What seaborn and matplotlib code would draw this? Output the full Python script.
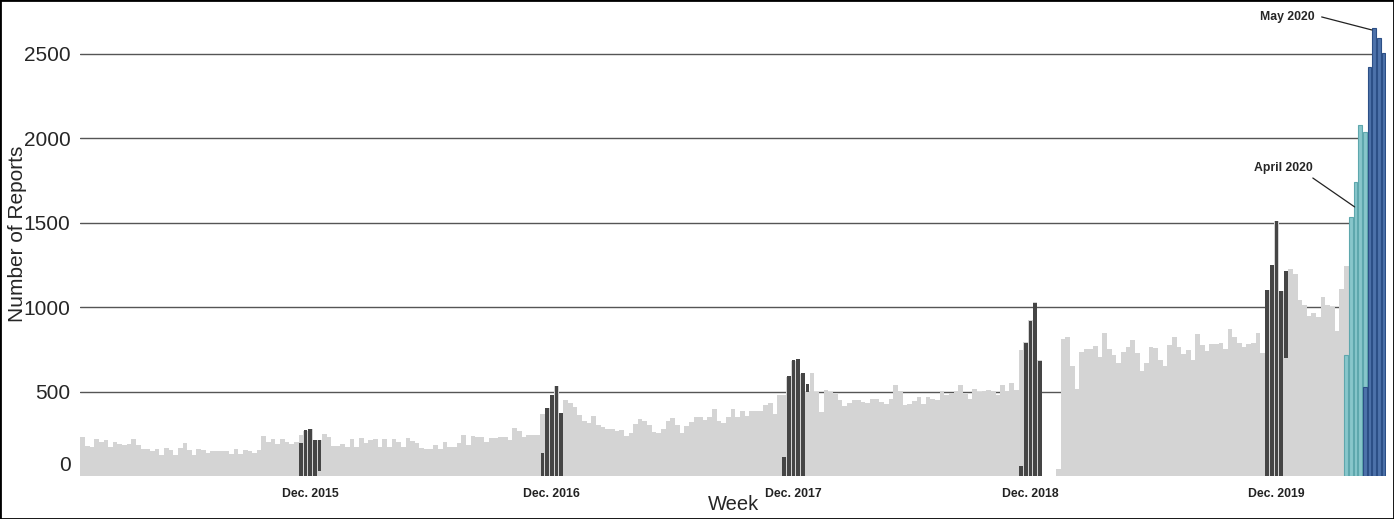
import numpy as np
import pandas as pd
import seaborn as sns
import matplotlib.pyplot as plt
from matplotlib.patches import Rectangle
from matplotlib.transforms import ScaledTranslation

# ---------------- data ----------------
# weekly number of reports (light grey bars), one list per Dec-to-Dec stretch
weeks_2015 = [235, 180, 175, 220, 206, 214, 175, 203, 192, 188, 192, 220, 188, 160, 164, 151,
              164, 127, 168, 154, 129, 170, 198, 156, 129, 164, 158, 140, 148, 148, 148, 148,
              132, 164, 136, 158, 150, 140, 156, 241, 203, 220, 194, 222, 203, 190, 205, 248,
              272, 280, 214, 214]
weeks_2016 = [249, 235, 180, 180, 192, 173, 224, 173, 230, 196, 216, 220, 173, 220, 173, 220,
              204, 173, 230, 208, 196, 169, 165, 165, 184, 161, 204, 173, 173, 200, 248, 188,
              242, 236, 232, 204, 228, 228, 232, 236, 216, 287, 267, 232, 248, 244, 248, 370,
              405, 482, 533, 374]
weeks_2017 = [453, 433, 409, 364, 328, 315, 358, 303, 295, 283, 279, 271, 275, 240, 255, 311,
              342, 326, 307, 263, 255, 283, 330, 346, 303, 259, 299, 322, 350, 350, 334, 350,
              397, 330, 315, 350, 397, 354, 390, 358, 386, 386, 390, 421, 433, 370, 480, 480,
              590, 685, 693, 605]
weeks_2018 = [502, 610, 502, 382, 509, 497, 490, 451, 417, 433, 451, 451, 441, 433, 457, 461,
              441, 429, 457, 539, 504, 421, 429, 449, 472, 429, 468, 461, 453, 508, 480, 496,
              504, 543, 488, 461, 520, 500, 508, 512, 504, 480, 539, 508, 555, 510, 749, 795,
              925, 1032, 688]
weeks_2019 = [0, 0, 0, 42, 812, 824, 654, 520, 737, 756, 756, 772, 709, 851, 756, 721, 673,
              737, 768, 808, 729, 623, 670, 764, 760, 689, 654, 776, 824, 768, 725, 749, 689,
              843, 776, 744, 784, 784, 788, 756, 875, 824, 788, 764, 784, 792, 851, 733, 1104,
              1250, 1514, 1096, 1214]
weeks_2020 = [1230, 1198, 1044, 1013, 950, 966, 946, 1064, 1013, 1001, 863, 1108, 1246]

# December weeks (dark bars): first week index, bar tops and bar bottoms
dec_first_week = [47, 99, 151, 202, 255]
dec_2015_top = [196, 275, 283, 216, 216]
dec_2015_bottom = [0, 0, 0, 0, 34]
dec_2016_top = [141, 407, 484, 535, 374]
dec_2016_bottom = [0, 0, 0, 0, 0]
dec_2017_top = [113, 595, 689, 697, 611, 545]
dec_2017_bottom = [0, 0, 0, 0, 0, 502]
dec_2018_top = [62, 792, 922, 1029, 685]
dec_2018_bottom = [0, 0, 0, 0, 0]
dec_2019_top = [1104, 1250, 1514, 1096, 1214]
dec_2019_bottom = [0, 0, 0, 0, 701]

# April 2020 (teal) and May 2020 (blue)
apr_first_week = 272
apr_2020 = [717, 1537, 1744, 2080, 2040]
may_first_week = 276
may_2020 = [530, 2425, 2652, 2593, 2505]

dec_labels = ["Dec. 2015", "Dec. 2016", "Dec. 2017", "Dec. 2018", "Dec. 2019"]
dec_label_week = [49, 101, 153, 204, 257]
y_ticks = [0, 500, 1000, 1500, 2000, 2500]

# ---------------- frames ----------------
grey_vals = weeks_2015 + weeks_2016 + weeks_2017 + weeks_2018 + weeks_2019 + weeks_2020
n_weeks = max(len(grey_vals), may_first_week + len(may_2020))
order = list(range(n_weeks))
grey_df = pd.DataFrame({"week": range(len(grey_vals)), "reports": grey_vals})

dec_tops = [dec_2015_top, dec_2016_top, dec_2017_top, dec_2018_top, dec_2019_top]
dec_bots = [dec_2015_bottom, dec_2016_bottom, dec_2017_bottom, dec_2018_bottom, dec_2019_bottom]
rows = []
for start, tops, bots in zip(dec_first_week, dec_tops, dec_bots):
    for k, (t, b) in enumerate(zip(tops, bots)):
        rows.append({"week": start + k, "top": t, "bottom": b})
dec_df = pd.DataFrame(rows)
float_df = dec_df[dec_df["bottom"] > 0]
apr_df = pd.DataFrame({"week": range(apr_first_week, apr_first_week + len(apr_2020)), "reports": apr_2020})
may_df = pd.DataFrame({"week": range(may_first_week, may_first_week + len(may_2020)), "reports": may_2020})

# ---------------- plot ----------------
sns.set_theme(style="white")
plt.rcParams["font.family"] = ["Liberation Sans", "DejaVu Sans"]

GREY = "#d4d4d4"
fig = plt.figure(figsize=(13.94, 5.19), dpi=100)
ax = fig.add_axes([0.0576, 0.0819, 0.9365, 0.9027])

common = dict(order=order, errorbar=None, saturation=1, ax=ax)
sns.barplot(data=grey_df, x="week", y="reports", color=GREY, width=1.0, linewidth=0, **common)
sns.barplot(data=dec_df, x="week", y="top", color="#454545", width=0.8, linewidth=0, **common)
# lower part of the floating December bars shows the grey series
sns.barplot(data=float_df, x="week", y="bottom", color=GREY, width=1.0, linewidth=0, **common)
sns.barplot(data=apr_df, x="week", y="reports", color="#88c6cb", width=0.8,
            edgecolor="#5ea7ad", linewidth=0.8, **common)
sns.barplot(data=may_df, x="week", y="reports", color="#4d72aa", width=0.8,
            edgecolor="#2c4f86", linewidth=0.8, **common)

ax.set_xlim(-0.5, n_weeks - 0.5)
ax.set_ylim(0, 2772)
for s in ax.spines.values():
    s.set_visible(False)

ax.set_axisbelow(True)
ax.yaxis.grid(True, color="#555555", linewidth=1.0)
ax.xaxis.grid(False)
ax.set_yticks(y_ticks)
ax.set_yticklabels([str(v) for v in y_ticks], fontsize=15)
ax.get_ygridlines()[0].set_visible(False)
ax.set_xticks(dec_label_week)
ax.set_xticklabels(dec_labels, fontsize=8.8, fontweight="bold", color="#222222")
ax.tick_params(axis="x", length=0, pad=8)
ax.tick_params(axis="y", length=0, pad=7)
# the "0" label sits a bit above the baseline in the reference
lab0 = ax.yaxis.get_major_ticks()[0].label1
lab0.set_transform(lab0.get_transform() + ScaledTranslation(0, 9 / 72, fig.dpi_scale_trans))

ax.set_xlabel("Week", fontsize=14.5, labelpad=-3)
ax.set_ylabel("Number of Reports", fontsize=15)
ax.yaxis.set_label_coords(-0.0405, 0.517)

# annotations: text plus a thin leader line
ax.text(258.4, 1825, "April 2020", fontsize=8.8, fontweight="bold", ha="center", va="center")
ax.annotate("", xy=(273.8, 1595), xytext=(264.8, 1766),
            arrowprops=dict(arrowstyle="-", color="#222222", lw=0.9, shrinkA=0, shrinkB=0))
ax.text(259.3, 2719, "May 2020", fontsize=8.8, fontweight="bold", ha="center", va="center")
ax.annotate("", xy=(277.5, 2642), xytext=(266.7, 2719),
            arrowprops=dict(arrowstyle="-", color="#222222", lw=0.9, shrinkA=0, shrinkB=0))

fig.patches.append(Rectangle((0, 0), 1, 1, transform=fig.transFigure, fill=False,
                             edgecolor="black", linewidth=2))
fig.savefig("out.png", dpi=100)
